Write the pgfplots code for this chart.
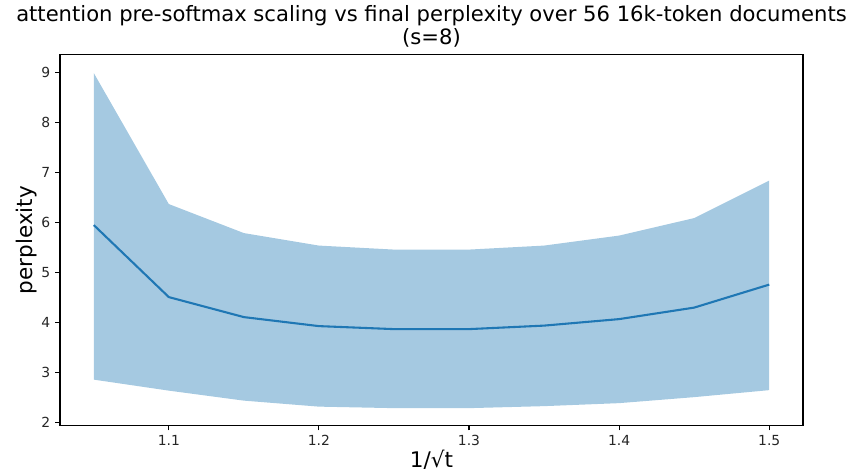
\documentclass[border=0pt]{standalone}
\usepackage{pgfplots}
\pgfplotsset{compat=1.18}
\usepgfplotslibrary{fillbetween}
\usepackage{fontspec}
\setmainfont{DejaVu Sans}
\definecolor{mplblue}{HTML}{1F77B4}
\definecolor{bandblue}{HTML}{A5C9E1}
\pgfplotstableread{
x     lo    mean  hi
1.05  2.86  5.95  8.99
1.10  2.64  4.51  6.37
1.15  2.44  4.11  5.79
1.20  2.32  3.93  5.54
1.25  2.29  3.87  5.46
1.30  2.29  3.87  5.46
1.35  2.33  3.94  5.54
1.40  2.39  4.07  5.74
1.45  2.51  4.30  6.09
1.50  2.65  4.76  6.84
}\datatable
\begin{document}
\begin{tikzpicture}
\path (0,0) rectangle (614.16pt,340.56pt);
\begin{axis}[
  at={(43.2pt,34.2pt)}, anchor=south west,
  scale only axis, width=534.96pt, height=267pt,
  xmin=1.0275, xmax=1.5225, ymin=1.943, ymax=9.357,
  xtick={1.1,1.2,1.3,1.4,1.5},
  ytick={2,3,4,5,6,7,8,9},
  xticklabel style={/pgf/number format/fixed,/pgf/number format/precision=1,/pgf/number format/fixed zerofill},
  /pgf/number format/assume math mode=true,
  tick label style={font=\fontsize{10}{12}\selectfont, text=black!85},
  tick align=outside, tick pos=left,
  major tick length=3.5pt,
  tick style={black, line width=0.8pt},
  axis line style={black, line width=0.8pt},
  xlabel={1/√t}, ylabel={perplexity},
  label style={font=\fontsize{15.5}{18}\selectfont},
  xlabel style={yshift=4pt},
  ylabel style={yshift=-4pt},
  title={attention pre-softmax scaling vs final perplexity over 56 16k-token documents\\(s=8)},
  title style={font=\fontsize{15.2}{16.8}\selectfont, align=center, yshift=-4.5pt},
  clip=false,
]
\addplot[name path=hi, draw=none, forget plot] table[x=x,y=hi]{\datatable};
\addplot[name path=lo, draw=none, forget plot] table[x=x,y=lo]{\datatable};
\addplot[fill=bandblue, draw=none] fill between[of=hi and lo];
\addplot[mplblue, line width=1.5pt] table[x=x,y=mean]{\datatable};
\end{axis}
\end{tikzpicture}
\end{document}
